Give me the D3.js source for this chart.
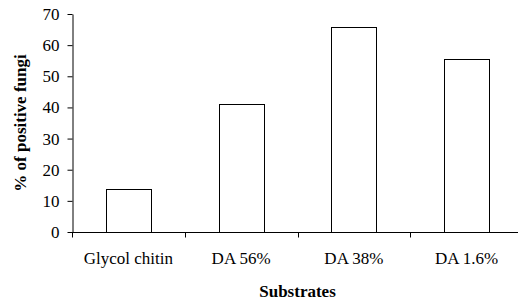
<html>
<head>
    <script src="https://d3js.org/d3.v7.min.js"></script>
    <style>
        body { margin: 0; background: #fff; }
        text { font-family: "Liberation Serif", "Times New Roman", serif; }
    </style>
</head>
<body>
    <svg width="518" height="302"></svg>
    <script>
        const categories = ["Glycol chitin", "DA 56%", "DA 38%", "DA 1.6%"];
        const values = [13.7, 41.0, 65.9, 55.6];
        const yTicks = [0, 10, 20, 30, 40, 50, 60, 70];

        const width = 518, height = 302;
        const margin = { top: 14, right: -5, bottom: 70, left: 72 };

        const svg = d3.select("svg");

        const xScale = d3.scaleBand()
                         .domain(categories)
                         .range([margin.left, width - margin.right])
                         .paddingInner(0.6)
                         .paddingOuter(0.3);

        const yScale = d3.scaleLinear()
                         .domain([0, 70])
                         .range([height - margin.bottom, margin.top]);

        // bars
        svg.selectAll(".bar")
           .data(values)
           .enter().append("rect")
           .attr("class", "bar")
           .attr("x", (d, i) => Math.round(xScale(categories[i])) + 0.5)
           .attr("y", d => Math.round(yScale(d)) + 0.5)
           .attr("width", Math.round(xScale.bandwidth()))
           .attr("height", d => Math.round(yScale(0)) - Math.round(yScale(d)))
           .attr("fill", "#fff")
           .attr("stroke", "#000")
           .attr("stroke-width", 1);

        // x axis: ticks between categories
        const x0 = margin.left, x1 = width - margin.right;
        const step = (x1 - x0) / categories.length;
        const xAxis = svg.append("g")
                         .attr("transform", `translate(0,${Math.round(yScale(0)) + 0.5})`);
        xAxis.append("line")
             .attr("x1", x0).attr("x2", x1)
             .attr("stroke", "#000");
        xAxis.selectAll(".xt")
             .data(d3.range(categories.length + 1))
             .enter().append("line")
             .attr("x1", i => Math.round(x0 + i * step) + 0.5)
             .attr("x2", i => Math.round(x0 + i * step) + 0.5)
             .attr("y1", 0).attr("y2", 5)
             .attr("stroke", "#000");
        xAxis.selectAll(".xl")
             .data(categories)
             .enter().append("text")
             .attr("x", (d, i) => x0 + (i + 0.5) * step)
             .attr("y", 31)
             .attr("text-anchor", "middle")
             .attr("font-size", 17)
             .text(d => d);

        // y axis
        const yAxis = svg.append("g")
                         .attr("transform", `translate(${margin.left + 0.5},0)`)
                         .call(d3.axisLeft(yScale)
                                 .tickValues(yTicks)
                                 .tickSize(5)
                                 .tickPadding(8)
                                 .tickSizeOuter(0));
        yAxis.selectAll("text")
             .attr("font-size", 17)
             .attr("font-family", "Liberation Serif, Times New Roman, serif")
             .attr("fill", "#000");

        // axis titles
        svg.append("text")
           .attr("x", (x0 + x1) / 2)
           .attr("y", 297)
           .attr("text-anchor", "middle")
           .attr("font-size", 17)
           .attr("font-weight", "bold")
           .text("Substrates");

        svg.append("text")
           .attr("transform", `translate(26,${(yScale(0) + yScale(70)) / 2}) rotate(-90)`)
           .attr("text-anchor", "middle")
           .attr("font-size", 17)
           .attr("font-weight", "bold")
           .text("% of positive fungi");
    </script>
</body>
</html>
